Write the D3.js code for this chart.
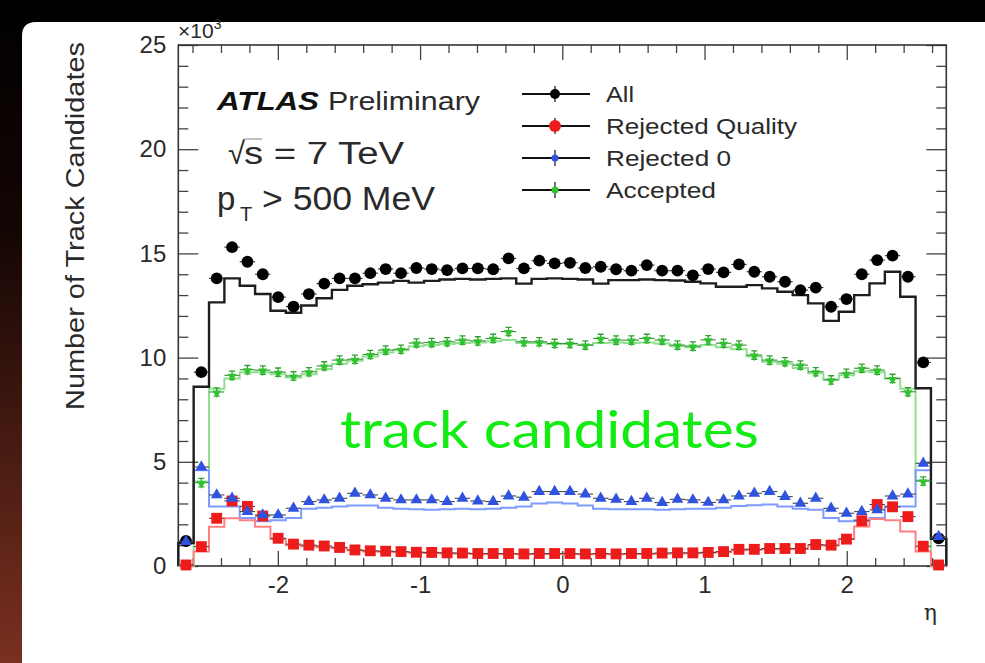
<!DOCTYPE html>
<html>
<head>
<meta charset="utf-8">
<script src="https://cdn.jsdelivr.net/npm/d3@7"></script>
<style>
  html, body { margin: 0; padding: 0; background: #000; }
  svg { display: block; }
</style>
</head>
<body>
<svg id="chart" width="985" height="663"></svg>
<script>
// Track candidates per eta bin (units of 10^3), 50 bins from -2.7 to 2.7
const etaRange = [-2.7, 2.7];
const nBins = 50;

// data points
const allData = [1.2, 9.3, 13.8, 15.3, 14.6, 14.0, 12.9, 12.45, 13.05, 13.55, 13.8, 13.8, 14.05, 14.25, 14.05, 14.3, 14.25, 14.2, 14.28, 14.28, 14.24, 14.76, 14.28, 14.65, 14.52, 14.55, 14.3, 14.36, 14.24, 14.17, 14.44, 14.17, 14.17, 13.95, 14.25, 14.09, 14.47, 14.12, 13.88, 13.64, 13.24, 13.36, 12.44, 12.81, 14.0, 14.68, 14.89, 13.88, 9.77, 1.33];
const rejQualityData = [0.05, 0.93, 2.29, 3.12, 2.86, 2.4, 1.33, 1.05, 1.0, 0.96, 0.89, 0.77, 0.73, 0.71, 0.69, 0.66, 0.65, 0.63, 0.62, 0.6, 0.6, 0.6, 0.58, 0.6, 0.6, 0.6, 0.58, 0.6, 0.58, 0.6, 0.6, 0.62, 0.63, 0.63, 0.65, 0.69, 0.8, 0.8, 0.84, 0.84, 0.84, 1.03, 1.0, 1.29, 2.17, 2.95, 2.84, 2.37, 0.95, 0.05];
const rej0Data = [1.17, 4.75, 3.41, 3.25, 2.61, 2.45, 2.45, 2.77, 3.09, 3.17, 3.25, 3.49, 3.41, 3.25, 3.17, 3.17, 3.17, 3.09, 3.25, 3.12, 3.09, 3.36, 3.3, 3.57, 3.57, 3.57, 3.45, 3.25, 3.2, 3.09, 3.25, 3.04, 3.2, 3.17, 3.05, 3.17, 3.36, 3.49, 3.57, 3.33, 3.01, 3.25, 2.77, 2.53, 2.61, 2.69, 3.36, 3.45, 4.93, 1.41];
const acceptedData = [0.05, 4.0, 8.35, 9.15, 9.42, 9.4, 9.3, 9.12, 9.32, 9.6, 9.88, 9.92, 10.15, 10.36, 10.4, 10.7, 10.72, 10.76, 10.84, 10.8, 10.92, 11.25, 10.76, 10.76, 10.68, 10.68, 10.6, 10.92, 10.84, 10.84, 10.92, 10.84, 10.6, 10.55, 10.85, 10.69, 10.6, 10.12, 9.88, 9.8, 9.64, 9.32, 8.93, 9.25, 9.49, 9.4, 9.0, 8.36, 4.08, 0.05];
const acceptedErr = 0.2;

// simulation histograms
const allSim = [1.1, 8.6, 12.65, 13.8, 13.45, 13.05, 12.25, 12.15, 12.5, 12.85, 13.25, 13.45, 13.52, 13.6, 13.68, 13.6, 13.68, 13.75, 13.78, 13.75, 13.78, 13.8, 13.55, 13.78, 13.8, 13.78, 13.75, 13.55, 13.72, 13.72, 13.75, 13.72, 13.7, 13.64, 13.56, 13.4, 13.4, 13.48, 13.32, 13.16, 13.0, 12.6, 11.76, 12.2, 13.0, 13.56, 14.12, 12.92, 8.53, 1.3];
const rejQualitySim = [0, 0.7, 1.88, 2.29, 2.2, 1.88, 1.3, 1.0, 0.95, 0.9, 0.85, 0.75, 0.7, 0.68, 0.66, 0.63, 0.62, 0.6, 0.59, 0.58, 0.57, 0.57, 0.56, 0.57, 0.57, 0.57, 0.56, 0.57, 0.56, 0.57, 0.58, 0.59, 0.6, 0.61, 0.63, 0.66, 0.75, 0.78, 0.8, 0.8, 0.82, 0.98, 0.98, 1.3, 1.9, 2.25, 2.2, 1.65, 0.7, 0];
const rej0Sim = [1.1, 4.6, 2.85, 2.85, 2.3, 2.15, 2.2, 2.3, 2.75, 2.8, 2.85, 2.9, 2.9, 2.8, 2.75, 2.72, 2.7, 2.72, 2.75, 2.72, 2.75, 2.8, 2.85, 3.0, 3.05, 3.0, 2.9, 2.75, 2.72, 2.72, 2.72, 2.7, 2.72, 2.75, 2.75, 2.8, 2.88, 2.92, 2.95, 2.85, 2.75, 2.7, 2.3, 2.15, 2.2, 2.3, 2.85, 2.85, 4.6, 1.3];
const acceptedSim = [0, 4.05, 8.5, 9.0, 9.3, 9.3, 9.2, 9.05, 9.2, 9.45, 9.7, 9.85, 10.05, 10.25, 10.35, 10.55, 10.6, 10.65, 10.7, 10.72, 10.78, 10.85, 10.7, 10.7, 10.65, 10.65, 10.6, 10.7, 10.72, 10.7, 10.72, 10.68, 10.55, 10.5, 10.6, 10.5, 10.4, 10.05, 9.8, 9.7, 9.5, 9.25, 8.95, 9.15, 9.35, 9.3, 9.0, 8.5, 4.1, 0];

// axes
const yTickValues = [0, 5, 10, 15, 20, 25];
const xTickValues = [-2, -1, 0, 1, 2];
const legendLabels = ["All", "Rejected Quality", "Rejected 0", "Accepted"];

const W = 985, H = 663;
const svg = d3.select("#chart");
const SANS = "'Liberation Sans', Arial, Helvetica, sans-serif";

// backdrop and white panel
const defs = svg.append("defs");
const edge = defs.append("linearGradient").attr("id", "edgeGrad")
  .attr("x1", 0).attr("y1", 0).attr("x2", 0).attr("y2", 1);
edge.append("stop").attr("offset", "0%").attr("stop-color", "#000");
edge.append("stop").attr("offset", "35%").attr("stop-color", "#140604");
edge.append("stop").attr("offset", "100%").attr("stop-color", "#7a3020");
svg.append("rect").attr("width", W).attr("height", H).attr("fill", "#000");
svg.append("rect").attr("x", 0).attr("y", 0).attr("width", 22).attr("height", H).attr("fill", "url(#edgeGrad)");
svg.append("path").attr("d", "M22,36 Q22,22 36,22 L985,22 L985,663 L22,663 Z").attr("fill", "#fff");

const frame = { l: 178.3, r: 946.3, t: 45, b: 566 };
const x = d3.scaleLinear().domain(etaRange).range([frame.l, frame.r]);
const y = d3.scaleLinear().domain([0, 25]).range([frame.b, frame.t]);

const binW = (etaRange[1] - etaRange[0]) / nBins;
const edges = d3.range(nBins + 1).map(i => etaRange[0] + i * binW);
const centers = d3.range(nBins).map(i => etaRange[0] + (i + 0.5) * binW);

const plot = svg.append("g");

// ---- axes with inward ticks on all four sides ----
const tickColor = "#444";
function styleAxis(g) {
  g.select(".domain").remove();
  g.selectAll(".tick line").attr("stroke", tickColor).attr("stroke-width", 1.3);
  g.selectAll("text").attr("font-family", SANS).attr("font-size", 24).attr("fill", "#2a2a2a");
}
const xMinor = d3.range(-13, 14).map(k => k * 0.2).filter(v => Math.abs(v - Math.round(v)) > 1e-6);
const yMinor = d3.range(0, 26).filter(v => v % 5 !== 0);

plot.append("g").attr("transform", `translate(0,${frame.b})`)
  .call(d3.axisBottom(x).tickValues(xTickValues).tickSize(-15).tickPadding(10)
    .tickFormat(d => d3.format("d")(d).replace("\u2212", "-")))
  .call(styleAxis);
plot.append("g").attr("transform", `translate(0,${frame.b})`)
  .call(d3.axisBottom(x).tickValues(xMinor).tickSize(-8).tickFormat(""))
  .call(styleAxis);
plot.append("g").attr("transform", `translate(0,${frame.t})`)
  .call(d3.axisTop(x).tickValues(xTickValues).tickSize(-15).tickFormat(""))
  .call(styleAxis);
plot.append("g").attr("transform", `translate(0,${frame.t})`)
  .call(d3.axisTop(x).tickValues(xMinor).tickSize(-8).tickFormat(""))
  .call(styleAxis);
plot.append("g").attr("transform", `translate(${frame.l},0)`)
  .call(d3.axisLeft(y).tickValues(yTickValues).tickSize(-20).tickPadding(12).tickFormat(d3.format("d")))
  .call(styleAxis);
plot.append("g").attr("transform", `translate(${frame.l},0)`)
  .call(d3.axisLeft(y).tickValues(yMinor).tickSize(-10).tickFormat(""))
  .call(styleAxis);
plot.append("g").attr("transform", `translate(${frame.r},0)`)
  .call(d3.axisRight(y).tickValues(yTickValues).tickSize(-20).tickFormat(""))
  .call(styleAxis);
plot.append("g").attr("transform", `translate(${frame.r},0)`)
  .call(d3.axisRight(y).tickValues(yMinor).tickSize(-10).tickFormat(""))
  .call(styleAxis);

plot.append("rect")
  .attr("x", frame.l).attr("y", frame.t)
  .attr("width", frame.r - frame.l).attr("height", frame.b - frame.t)
  .attr("fill", "none").attr("stroke", "#333").attr("stroke-width", 1.6);

// ---- simulation histograms as step lines ----
function stepPoints(vals) {
  const pts = [[x(edges[0]), y(0)]];
  vals.forEach((v, i) => {
    pts.push([x(edges[i]), y(v)]);
    pts.push([x(edges[i + 1]), y(v)]);
  });
  pts.push([x(edges[nBins]), y(0)]);
  return pts;
}
const stepLine = d3.line();
const hists = [
  { vals: acceptedSim, color: "#8fe08f", w: 2 },
  { vals: rej0Sim, color: "#7f9bff", w: 2 },
  { vals: rejQualitySim, color: "#ff8080", w: 2 },
  { vals: allSim, color: "#1e1e1e", w: 2.4 }
];
hists.forEach(h => {
  plot.append("path").attr("d", stepLine(stepPoints(h.vals)))
    .attr("fill", "none").attr("stroke", h.color).attr("stroke-width", h.w)
    .attr("stroke-linejoin", "miter");
});

// ---- data points ----
function xErrBars(vals, color) {
  plot.append("g").selectAll("line").data(vals).join("line")
    .attr("x1", (d, i) => x(edges[i])).attr("x2", (d, i) => x(edges[i + 1]))
    .attr("y1", d => y(d)).attr("y2", d => y(d))
    .attr("stroke", color).attr("stroke-width", 1.1);
}

// All: black circles
xErrBars(allData, "#333");
plot.append("g").selectAll("circle").data(allData).join("circle")
  .attr("cx", (d, i) => x(centers[i])).attr("cy", d => y(d)).attr("r", 5.9)
  .attr("fill", "#000");

// Accepted: green inverted triangles with vertical errors
xErrBars(acceptedData, "#3a8a3a");
const gAcc = plot.append("g");
gAcc.selectAll("path.err").data(acceptedData).join("path").attr("class", "err")
  .attr("d", (d, i) => {
    const cx = x(centers[i]), y1 = y(d + acceptedErr), y0 = y(Math.max(0, d - acceptedErr));
    return `M${cx},${y0}V${y1}M${cx - 3},${y1}H${cx + 3}M${cx - 3},${y0}H${cx + 3}`;
  })
  .attr("stroke", "#2f9e2f").attr("stroke-width", 1.3).attr("fill", "none");
gAcc.selectAll("path.mk").data(acceptedData).join("path").attr("class", "mk")
  .attr("d", d3.symbol(d3.symbolTriangle, 34))
  .attr("transform", (d, i) => `translate(${x(centers[i])},${y(d) + 1}) rotate(180)`)
  .attr("fill", "#2fc42f");

// Rejected Quality: red squares
xErrBars(rejQualityData, "#444");
plot.append("g").selectAll("path").data(rejQualityData).join("path")
  .attr("d", d3.symbol(d3.symbolSquare, 118))
  .attr("transform", (d, i) => `translate(${x(centers[i])},${y(d)})`)
  .attr("fill", "#ee1b1b");

// Rejected 0: blue triangles
xErrBars(rej0Data, "#444");
plot.append("g").selectAll("path").data(rej0Data).join("path")
  .attr("d", d3.symbol(d3.symbolTriangle, 60))
  .attr("transform", (d, i) => `translate(${x(centers[i])},${y(d)})`)
  .attr("fill", "#2f53e0");

// ---- axis titles ----
svg.append("text")
  .attr("transform", "translate(84,226) rotate(-90)")
  .attr("text-anchor", "middle")
  .attr("font-family", SANS).attr("font-size", 25).attr("fill", "#2a2a2a")
  .attr("textLength", 368).attr("lengthAdjust", "spacingAndGlyphs")
  .text("Number of Track Candidates");

const exp = svg.append("text").attr("x", 178).attr("y", 38)
  .attr("font-family", SANS).attr("font-size", 21).attr("fill", "#2a2a2a");
exp.append("tspan").text("\u00d710");
exp.append("tspan").attr("font-size", 14).attr("dy", -9).text("3");

svg.append("text").attr("x", 937).attr("y", 620).attr("text-anchor", "end")
  .attr("font-family", "'DejaVu Serif', 'Liberation Serif', serif")
  .attr("font-size", 22).attr("fill", "#2a2a2a").text("\u03b7");

// ---- labels inside the frame ----
svg.append("text").attr("x", 217).attr("y", 110)
  .attr("font-family", SANS).attr("font-size", 25).attr("font-weight", "bold").attr("font-style", "italic")
  .attr("fill", "#111").attr("textLength", 102).attr("lengthAdjust", "spacingAndGlyphs").text("ATLAS");
svg.append("text").attr("x", 328).attr("y", 110)
  .attr("font-family", SANS).attr("font-size", 25).attr("fill", "#2a2a2a")
  .attr("textLength", 152).attr("lengthAdjust", "spacingAndGlyphs").text("Preliminary");

svg.append("text").attr("x", 228).attr("y", 164)
  .attr("font-family", SANS).attr("font-size", 31).attr("fill", "#2a2a2a").text("\u221a");
svg.append("line").attr("x1", 244).attr("x2", 262).attr("y1", 139).attr("y2", 139)
  .attr("stroke", "#9a9a9a").attr("stroke-width", 1.2);
svg.append("text").attr("x", 244).attr("y", 164)
  .attr("font-family", SANS).attr("font-size", 31).attr("fill", "#2a2a2a")
  .attr("textLength", 160).attr("lengthAdjust", "spacingAndGlyphs").text("s = 7 TeV");

svg.append("text").attr("x", 217).attr("y", 210)
  .attr("font-family", SANS).attr("font-size", 33).attr("fill", "#2a2a2a").text("p");
svg.append("text").attr("x", 240).attr("y", 221)
  .attr("font-family", SANS).attr("font-size", 20).attr("fill", "#2a2a2a").text("T");
svg.append("text").attr("x", 262).attr("y", 210)
  .attr("font-family", SANS).attr("font-size", 33).attr("fill", "#2a2a2a")
  .attr("textLength", 173).attr("lengthAdjust", "spacingAndGlyphs").text("> 500 MeV");

// ---- legend ----
const legendWidths = [28, 191, 125, 110];
const legendMarks = [
  { color: "#000", r: 5 },
  { color: "#ee1b1b", r: 6 },
  { color: "#2f53e0", r: 3.5 },
  { color: "#2fc42f", r: 3.5 }
];
const leg = svg.append("g");
legendLabels.forEach((lab, i) => {
  const ly = 94 + 32 * i;
  leg.append("line").attr("x1", 522).attr("x2", 590).attr("y1", ly).attr("y2", ly)
    .attr("stroke", "#111").attr("stroke-width", 1.8);
  leg.append("line").attr("x1", 555).attr("x2", 555).attr("y1", ly - 8).attr("y2", ly + 8)
    .attr("stroke", "#111").attr("stroke-width", 1.2);
  leg.append("circle").attr("cx", 555).attr("cy", ly).attr("r", legendMarks[i].r)
    .attr("fill", legendMarks[i].color);
  leg.append("text").attr("x", 606).attr("y", ly + 8)
    .attr("font-family", SANS).attr("font-size", 22).attr("fill", "#2a2a2a")
    .attr("textLength", legendWidths[i]).attr("lengthAdjust", "spacingAndGlyphs")
    .text(lab);
});

// ---- overlay caption ----
svg.append("text").attr("x", 340).attr("y", 448)
  .attr("font-family", "Lato, 'Open Sans', sans-serif").attr("font-size", 52)
  .attr("fill", "#12ec12").attr("textLength", 419).attr("lengthAdjust", "spacingAndGlyphs")
  .text("track candidates");
</script>
</body>
</html>
